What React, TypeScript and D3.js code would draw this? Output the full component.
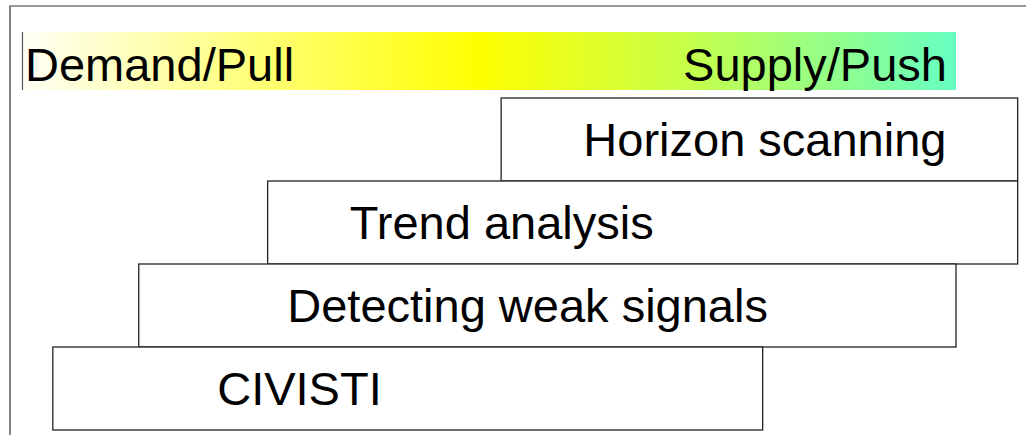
import * as d3 from 'd3';

// position on the demand → supply spectrum (0 = Demand/Pull end, 100 = Supply/Push end)
const stages = ['Horizon scanning', 'Trend analysis', 'Detecting weak signals', 'CIVISTI'];
const stageStart = [51.3, 26.3, 12.5, 3.3];
const stageEnd = [106.6, 106.6, 100, 79.3];
const labelStart = [60.1, 35.1, 28.4, 20.9];

const spectrumLabels = ['Demand/Pull', 'Supply/Push'];
const gradientStops = [
  { offset: 0, color: '#fffff6' },
  { offset: 0.49, color: '#ffff00' },
  { offset: 0.72, color: '#c4ff4c' },
  { offset: 1, color: '#66ffc2' },
];

const W = 1026;
const H = 435;
const FONT = '"Liberation Sans", Arial, Helvetica, sans-serif';

export default function App() {
  const x = d3.scaleLinear().domain([0, 100]).range([22, 956]);
  const y = d3.scaleBand<string>().domain(stages).range([98, 430]).paddingInner(0);
  const bw = y.bandwidth();

  return (
    <svg
      width={W}
      height={H}
      style={{ position: 'absolute', left: 0, top: 0, background: '#fff', fontFamily: FONT }}
    >
      <defs>
        <linearGradient id="spectrum" x1="0" x2="1" y1="0" y2="0">
          {gradientStops.map(s => (
            <stop key={s.offset} offset={s.offset} stopColor={s.color} />
          ))}
        </linearGradient>
      </defs>

      {/* frame */}
      <path d={`M10,${H} L10,6 L${W},6`} fill="none" stroke="#333" strokeWidth={1.2} />

      {/* spectrum bar */}
      <rect x={x(0)} y={32} width={x(100) - x(0)} height={58} fill="url(#spectrum)" />
      <line x1={x(0) + 0.5} x2={x(0) + 0.5} y1={32} y2={90} stroke="#555" strokeWidth={1.2} />
      <text x={x(0) + 3} y={81} fontSize={47} fill="#000">{spectrumLabels[0]}</text>
      <text x={x(100) - 9} y={81} fontSize={47} fill="#000" textAnchor="end">{spectrumLabels[1]}</text>

      {/* stages */}
      {stages.map((s, i) => (
        <g key={s}>
          <rect
            x={x(stageStart[i])}
            y={y(s)!}
            width={x(stageEnd[i]) - x(stageStart[i])}
            height={bw}
            fill="#fff"
            stroke="#222"
            strokeWidth={1.3}
          />
          <text x={x(labelStart[i])} y={y(s)! + bw / 2 + 16} fontSize={47} fill="#000">
            {s}
          </text>
        </g>
      ))}
    </svg>
  );
}
